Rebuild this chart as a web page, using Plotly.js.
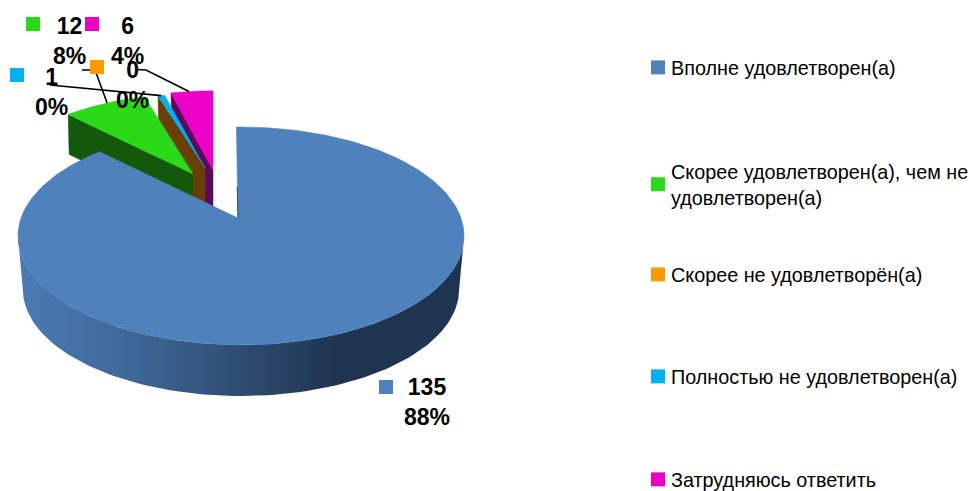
<!DOCTYPE html>
<html><head><meta charset="utf-8">
<script src="https://cdn.plot.ly/plotly-3.0.0.min.js"></script>
<style>html,body{margin:0;padding:0;background:#fff}#c{width:969px;height:491px}</style>
</head><body><div id="c"></div>
<script>
const categories = ["Вполне удовлетворен(а)", "Скорее удовлетворен(а), чем не<br>удовлетворен(а)", "Скорее не удовлетворён(а)", "Полностью не удовлетворен(а)", "Затрудняюсь ответить"];
const values = [135, 12, 0, 1, 6];
const percentLabels = ["88%", "8%", "0%", "0%", "4%"];
const colors = ["#4f81bd", "#2bd918", "#ff9900", "#00b0f0", "#ec00c8"];
const wallColors = ["#1e3450", "#14580c", "#6b3e06", "#00608a", "#5c0a5c"];

// Projection of the tilted pie (view parameters, in pixels)
const FONT = '"Liberation Sans",Arial,sans-serif';
const RX = 220, RY = 106, Q = 0.165;
const explode = [
  {ax:238, ay:218, s:1,    xs:1,    rot:-1.4, arcDx:3},
  {ax:193, ay:174, s:0.88, xs:1.03, rot:0, arcDx:0},
  {ax:205, ay:168, s:0.82, xs:1.07, rot:0, arcDx:0},
  {ax:205, ay:168, s:0.82, xs:1.07, rot:0, arcDx:0},
  {ax:213, ay:170, s:0.87, xs:1.05, rot:0, arcDx:0}
];
const total = values.reduce((a,b)=>a+b,0);
const starts = []; let cum = 0;
values.forEach(v=>{starts.push(cum/total*360); cum+=v;});

function proj(deg, e, sx, dy){
  const t = deg*Math.PI/180, x=Math.sin(t), y=Math.cos(t), w=1+Q*y;
  return [e.ax+e.arcDx+(sx||1)*e.xs*e.s*RX*x/w, e.ay+(dy||0)-(sx||1)*e.s*RY*y/w];
}
function arc(a0,a1,e,sx,dy){
  const n=Math.max(2,Math.ceil(Math.abs(a1-a0)/1.5)), pts=[];
  for(let i=0;i<=n;i++) pts.push(proj(a0+(a1-a0)*i/n,e,sx,dy));
  return pts;
}
function poly(pts,color,extra){
  return Object.assign({type:'scatter',mode:'lines',x:pts.map(p=>p[0]),y:pts.map(p=>p[1]),
    fill:'toself',fillcolor:color,line:{color:color,width:0.5},hoverinfo:'skip',showlegend:false},extra||{});
}
function sliceTop(i){
  const e=explode[i], a0=starts[i]+e.rot, a1=a0+values[i]/total*360;
  return poly([[e.ax,e.ay],...arc(a0,a1,e),[e.ax,e.ay]],colors[i]);
}
function cutFace(i,deg,color,d){
  const e=explode[i], p=proj(deg+e.rot,e);
  return poly([p,[e.ax,e.ay],[e.ax,e.ay+d],[p[0]+1,p[1]+d],p],color);
}

const traces=[];
// back to front: magenta, orange/cyan, green, blue
traces.push(cutFace(4,starts[4],wallColors[4],55));
traces.push(sliceTop(4));
traces.push(cutFace(2,starts[2],wallColors[2],60));
traces.push(sliceTop(3));
traces.push(cutFace(1,starts[1],wallColors[1],40));
traces.push(sliceTop(1));
// blue outer wall with horizontal gradient
const eb=explode[0];
const wallTop=arc(99.5,260.5,eb), wallBot=arc(260.5,99.5,eb,0.978,53.8);
traces.push({type:'scatter',mode:'lines',x:[...wallTop,...wallBot,wallTop[0]].map(p=>p[0]),y:[...wallTop,...wallBot,wallTop[0]].map(p=>p[1]),
  fill:'toself',line:{width:0,color:'rgba(0,0,0,0)'},hoverinfo:'skip',showlegend:false,
  fillgradient:{type:'horizontal',colorscale:[[0,'#4b7ab3'],[0.25,'#3f6899'],[0.5,'#2e4c72'],[0.72,'#1e3450'],[1,'#1e3450']]}});
traces.push(sliceTop(0));
// thin dark cut edge of the blue slice
const bs=proj(starts[0]+eb.rot,eb);
traces.push({type:'scatter',mode:'lines',x:[eb.ax,(eb.ax+bs[0])/2],y:[eb.ay,(eb.ay+bs[1])/2+14],line:{color:'#2c4a6e',width:1},hoverinfo:'skip',showlegend:false});

// Leader lines, from label to the slice's arc
const leaderFrom = {1:[[82,70],[95,70]], 3:[[50,85]], 4:[[137,69.5],[146,70]]};
const leaderMid = {1:330.5, 3:344.8, 4:352};
Object.keys(leaderFrom).forEach(k=>{
  const e=explode[k], end=proj(leaderMid[k],e);
  const pts=[...leaderFrom[k],end];
  traces.push({type:'scatter',mode:'lines',x:pts.map(p=>p[0]),y:pts.map(p=>p[1]),line:{color:'#000',width:1.6},hoverinfo:'skip',showlegend:false});
});

// Label squares, one per category; they also carry the legend entries
const squareX=[386,33,97,17,92], squareY=[387,24,67,75,24];
const labelX=[427,69,132,51,127], labelY=[402,41,85,92,41];
const legendTop=[48,152,255,357,460];
const legendIds=['legend','legend2','legend3','legend4','legend5'];
const layout={width:969,height:491,margin:{l:0,r:0,t:0,b:0,autoexpand:false},paper_bgcolor:'#fff',plot_bgcolor:'#fff',
  xaxis:{range:[0,969],visible:false,fixedrange:true},yaxis:{range:[491,0],visible:false,fixedrange:true},
  annotations:[],hovermode:false};
categories.forEach((c,i)=>{
  traces.push({type:'scatter',mode:'markers',x:[squareX[i]],y:[squareY[i]],name:c,legend:i?('legend'+(i+1)):'legend',
    marker:{symbol:'square',size:14,color:colors[i]},hoverinfo:'skip',showlegend:true});
  layout[legendIds[i]]={x:(631/969),xanchor:'left',y:1-legendTop[i]/491,yanchor:'top',bgcolor:'rgba(0,0,0,0)',
    font:{family:FONT,size:19.8,color:'#000'},itemwidth:30,itemclick:false,itemdoubleclick:false};
  layout.annotations.push({xref:'x',yref:'y',x:labelX[i],y:labelY[i],showarrow:false,align:'center',xanchor:'center',yanchor:'middle',
    text:'<b>'+values[i]+'<br>'+percentLabels[i]+'</b>',font:{family:FONT,size:23,color:'#000'}});
});
Plotly.newPlot('c',traces,layout,{displayModeBar:false,staticPlot:false}).then(gd=>{
  gd.querySelectorAll('.legendsymbols').forEach(n=>n.setAttribute('transform','translate(7,0)'));
});
</script></body></html>
